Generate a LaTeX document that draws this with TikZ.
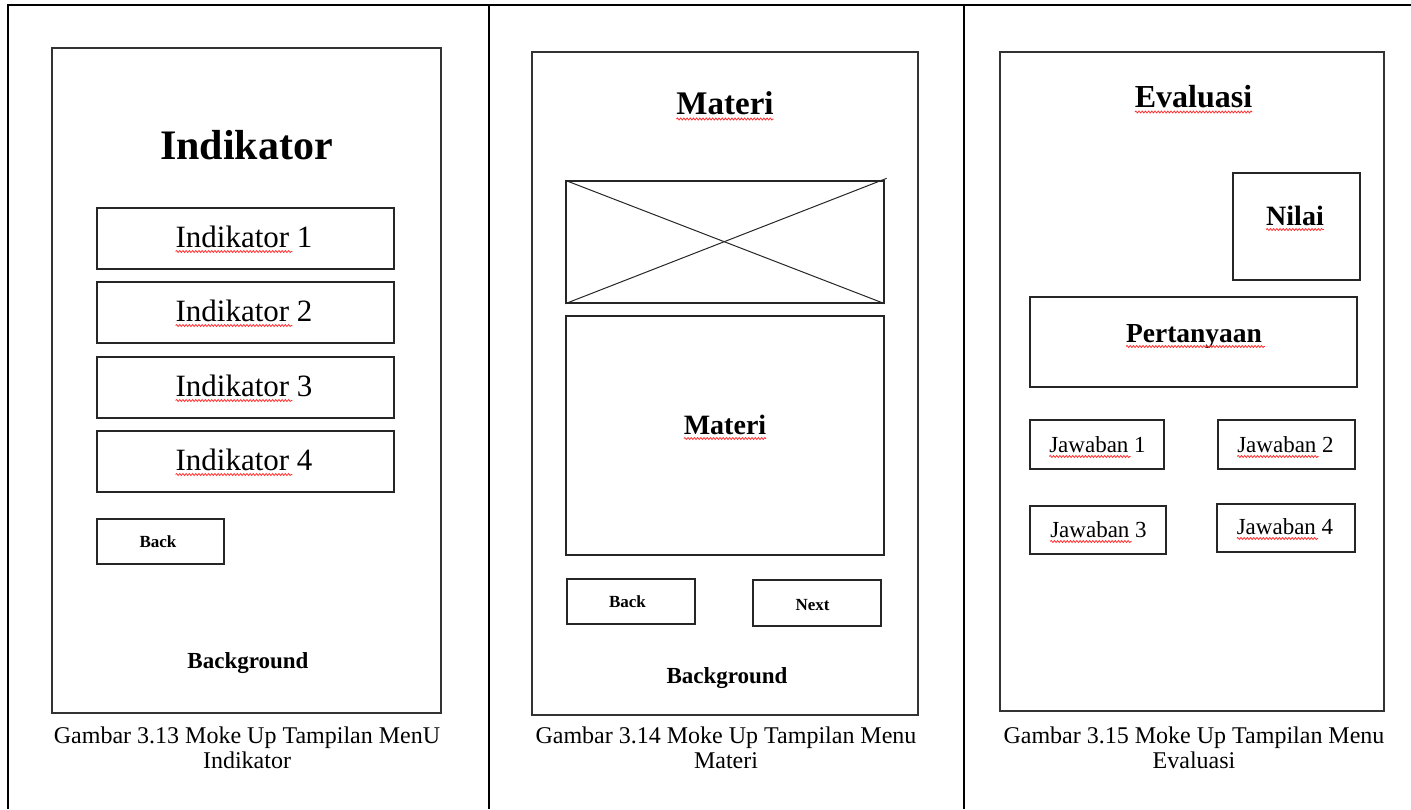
\documentclass[tikz,border=0pt]{standalone}
\usepackage{fontspec}
\setmainfont{Liberation Serif}
\usetikzlibrary{decorations.pathmorphing}
\tikzset{
  tbl/.style={line width=2pt, black},
  frame/.style={draw=black!80, line width=1.3pt},
  wbox/.style={draw=black!85, line width=1.3pt},
  txt/.style={inner sep=0pt, outer sep=0pt, anchor=base, font=\fontsize{#1}{#1}\selectfont},
  btxt/.style={inner sep=0pt, outer sep=0pt, anchor=base, font=\fontsize{#1}{#1}\selectfont\bfseries},
  wave/.style={draw=red!80, line width=0.8pt, decorate, decoration={snake, amplitude=1pt, segment length=3.2pt}},
}
\begin{document}
\begin{tikzpicture}[x=1pt,y=-1pt]
\useasboundingbox (0,0) rectangle (1411,809);
% table lines
\coordinate (tl) at (7,5);
\coordinate (tr) at (1411,5);
\draw[tbl] (tl) -- (tr);
\draw[tbl] (8,5) -- (8,809);
\draw[tbl] (489,5) -- (489,809);
\draw[tbl] (964,5) -- (964,809);

% ---------------- Panel 1 ----------------
\draw[frame] (52,48) rectangle (441,713);
\node[btxt=42] (t1) at (246.5,159) {Indikator};
\draw[wbox] (97,208) rectangle (394,269);
\draw[wbox] (97,282) rectangle (394,343);
\draw[wbox] (97,357) rectangle (394,418);
\draw[wbox] (97,431) rectangle (394,492);
\node[txt=31] (i1) at (244,247) {Indikator 1};
\node[txt=31] (i2) at (244,321) {Indikator 2};
\node[txt=31] (i3) at (244,396) {Indikator 3};
\node[txt=31] (i4) at (244,470) {Indikator 4};
\foreach \n in {i1,i2,i3,i4}{
  \draw[wave] ([yshift=-4.5pt]\n.base west) -- ([xshift=-20pt,yshift=-4.5pt]\n.base east);
}
\draw[wbox] (97,519) rectangle (224,564);
\node[btxt=17] (back1) at (158,547) {Back};
\node[btxt=23] (bg1) at (248,668) {Background};
\node[txt=24] (c1a) at (247,743) {Gambar 3.13 Moke Up Tampilan MenU};
\node[txt=24] (c1b) at (247,768) {Indikator};

% ---------------- Panel 2 ----------------
\draw[frame] (532,52) rectangle (918,715);
\node[btxt=33] (t2) at (725,114) {Materi};
\draw[wave] ([yshift=-5pt]t2.base west) -- ([yshift=-5pt]t2.base east);
\node[wbox, minimum width=318pt, minimum height=122pt, inner sep=0pt] (img) at (725,242) {};
\draw[black!85, line width=1pt] (img.north west) -- (img.south east);
\draw[black!85, line width=1pt] (img.south west) -- ([xshift=2pt,yshift=2pt]img.north east);
\draw[wbox] (566,316) rectangle (884,555);
\node[btxt=28] (m2) at (725,434) {Materi};
\draw[wave] ([yshift=-4.5pt]m2.base west) -- ([yshift=-4.5pt]m2.base east);
\draw[wbox] (567,579) rectangle (695,624);
\node[btxt=17] (back2) at (627.5,607) {Back};
\draw[wbox] (753,580) rectangle (881,626);
\node[btxt=17] (next2) at (812.5,610) {Next};
\node[btxt=23] (bg2) at (727,683) {Background};
\node[txt=24] (c2a) at (726,743) {Gambar 3.14 Moke Up Tampilan Menu};
\node[txt=24] (c2b) at (726,768) {Materi};

% ---------------- Panel 3 ----------------
\draw[frame] (1000,52) rectangle (1384,711);
\node[btxt=32] (t3) at (1193.5,107) {Evaluasi};
\draw[wave] ([yshift=-5pt]t3.base west) -- ([yshift=-5pt]t3.base east);
\draw[wbox] (1233,173) rectangle (1360,280);
\node[btxt=28] (nil) at (1295,225) {Nilai};
\draw[wave] ([yshift=-4.5pt]nil.base west) -- ([yshift=-4.5pt]nil.base east);
\draw[wbox] (1030,297) rectangle (1357,387);
\node[btxt=27.5] (per) at (1194,342) {Pertanyaan};
\draw[wave] ([yshift=-4.5pt]per.base west) -- ([xshift=3pt,yshift=-4.5pt]per.base east);
\draw[wbox] (1030,420) rectangle (1164,469);
\draw[wbox] (1218,420) rectangle (1355,469);
\draw[wbox] (1030,506) rectangle (1166,554);
\draw[wbox] (1217,504) rectangle (1355,552);
\node[txt=23] (j1) at (1097.5,452) {Jawaban 1};
\node[txt=23] (j2) at (1285.5,452) {Jawaban 2};
\node[txt=23] (j3) at (1098.5,537) {Jawaban 3};
\node[txt=23] (j4) at (1285,534) {Jawaban 4};
\foreach \n in {j1,j2,j3,j4}{
  \draw[wave] ([yshift=-4.5pt]\n.base west) -- ([xshift=-15pt,yshift=-4.5pt]\n.base east);
}
\node[txt=24] (c3a) at (1194,743) {Gambar 3.15 Moke Up Tampilan Menu};
\node[txt=24] (c3b) at (1194,768) {Evaluasi};
\end{tikzpicture}
\end{document}
